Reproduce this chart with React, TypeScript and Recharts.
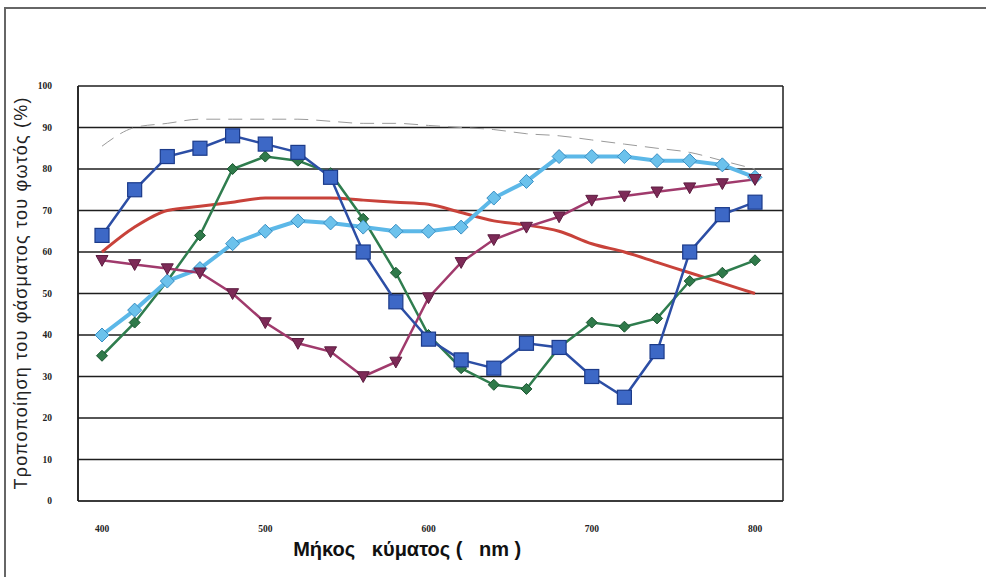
import { LineChart, Line, XAxis, YAxis, CartesianGrid } from "recharts";

const wavelengths = [400, 420, 440, 460, 480, 500, 520, 540, 560, 580, 600, 620, 640, 660, 680, 700, 720, 740, 760, 780, 800];
const blueSquares = [64, 75, 83, 85, 88, 86, 84, 78, 60, 48, 39, 34, 32, 38, 37, 30, 25, 36, 60, 69, 72];
const greenDiamonds = [35, 43, 53, 64, 80, 83, 82, 79, 68, 55, 40, 32, 28, 27, 37, 43, 42, 44, 53, 55, 58];
const lightBlueDiamonds = [40, 46, 53, 56, 62, 65, 67.5, 67, 66, 65, 65, 66, 73, 77, 83, 83, 83, 82, 82, 81, 78];
const purpleTriangles = [58, 57, 56, 55, 50, 43, 38, 36, 30, 33.5, 49, 57.5, 63, 66, 68.5, 72.5, 73.5, 74.5, 75.5, 76.5, 77.5];
const redCurve = [60, 66, 70, 71, 72, 73, 73, 73, 72.5, 72, 71.5, 69.5, 67.5, 66.5, 65, 62, 60, 57.5, 55, 52.5, 50];
const greyDashed = [85.5, 90, 91, 92, 92, 92, 92, 91.5, 91, 91, 90.5, 90, 89.5, 88.5, 88, 87, 86, 85, 84, 82, 80];

const xTicks = [400, 500, 600, 700, 800];
const yTicks = [0, 10, 20, 30, 40, 50, 60, 70, 80, 90, 100];

const data = wavelengths.map((nm, i) => ({
  nm,
  blue: blueSquares[i],
  green: greenDiamonds[i],
  light: lightBlueDiamonds[i],
  purple: purpleTriangles[i],
  red: redCurve[i],
  grey: greyDashed[i],
}));

const tickStyle = { fontFamily: "'Liberation Serif', serif", fontWeight: 700, fontSize: 9.5, fill: "#222" };

const Square = (p: any) => {
  if (p.cx == null || p.cy == null) return null;
  const s = 7;
  return <rect key={p.key} x={p.cx - s} y={p.cy - s} width={s * 2} height={s * 2} fill="#3d68c6" stroke="#1c3b8a" strokeWidth={1.2} />;
};

const diamond = (fill: string, stroke: string, s: number) => (p: any) => {
  if (p.cx == null || p.cy == null) return null;
  const { cx, cy } = p;
  return (
    <polygon key={p.key} points={`${cx},${cy - s} ${cx + s},${cy} ${cx},${cy + s} ${cx - s},${cy}`}
      fill={fill} stroke={stroke} strokeWidth={1} />
  );
};

const Triangle = (p: any) => {
  if (p.cx == null || p.cy == null) return null;
  const { cx, cy } = p;
  const s = 6;
  return (
    <polygon key={p.key} points={`${cx - s},${cy - s * 0.8} ${cx + s},${cy - s * 0.8} ${cx},${cy + s}`}
      fill="#7d2a57" stroke="#5c1d40" strokeWidth={1} />
  );
};

export default function App() {
  return (
    <div style={{ position: "absolute", left: 0, top: 0, width: 986, height: 577, background: "#fff", overflow: "hidden" }}>
      <div style={{ position: "absolute", left: 4, top: 7, width: 2, height: 570, background: "#666" }} />
      <div style={{ position: "absolute", left: 4, top: 7, width: 982, height: 2, background: "#666" }} />
      <LineChart width={986} height={577} data={data} margin={{ top: 86, right: 203, left: 0, bottom: 46 }}>
        <CartesianGrid
          stroke="#1e1e1e"
          strokeWidth={1.5}
          vertical={true}
          verticalCoordinatesGenerator={({ offset }: any) => [offset.left, offset.left + offset.width]}
        />
        <XAxis
          dataKey="nm"
          type="number"
          domain={[400, 800]}
          ticks={xTicks}
          padding={{ left: 24, right: 28 }}
          tickLine={false}
          axisLine={{ stroke: "#333", strokeWidth: 1.5 }}
          tick={tickStyle}
          tickMargin={18}
          height={30}
          label={{
            content: ({ viewBox }: any) => (
              <text x={viewBox.x + viewBox.width * 0.467} y={549} textAnchor="middle" dominantBaseline="central"
                style={{ whiteSpace: "pre", fontFamily: "'Liberation Sans', Arial, sans-serif", fontWeight: 700, fontSize: 20, fill: "#111" }}>
                {"Μήκος   κύματος (   nm )"}
              </text>
            ),
          }}
        />
        <YAxis
          domain={[0, 100]}
          ticks={yTicks}
          width={78}
          tickLine={false}
          axisLine={{ stroke: "#1e1e1e", strokeWidth: 1.5 }}
          tick={tickStyle}
          tickMargin={20}
          label={{
            content: ({ viewBox }: any) => {
              const cx = 21;
              const cy = viewBox.y + viewBox.height / 2;
              return (
                <text x={cx} y={cy} transform={`rotate(-90 ${cx} ${cy})`} textAnchor="middle" dominantBaseline="central"
                  textLength={392} lengthAdjust="spacing"
                  style={{ fontFamily: "'Liberation Sans', Arial, sans-serif", fontSize: 18, fill: "#222" }}>
                  Τροποποίηση του φάσματος του φωτός (%)
                </text>
              );
            },
          }}
        />
        <Line dataKey="grey" type="monotone" stroke="#9a9a9a" strokeWidth={1} strokeDasharray="14 8" dot={false} isAnimationActive={false} />
        <Line dataKey="red" type="monotone" stroke="#c8423a" strokeWidth={3} dot={false} isAnimationActive={false} />
        <Line dataKey="green" type="linear" stroke="#2f7d4e" strokeWidth={2.5} dot={diamond("#2f7a4a", "#1b5531", 5.5)} isAnimationActive={false} />
        <Line dataKey="light" type="linear" stroke="#5cb8e8" strokeWidth={4} dot={diamond("#6cc2ec", "#3a8ec2", 7)} isAnimationActive={false} />
        <Line dataKey="purple" type="linear" stroke="#a03a6c" strokeWidth={2.5} dot={Triangle} isAnimationActive={false} />
        <Line dataKey="blue" type="linear" stroke="#2c4ea5" strokeWidth={2.5} dot={Square} isAnimationActive={false} />
      </LineChart>
    </div>
  );
}
